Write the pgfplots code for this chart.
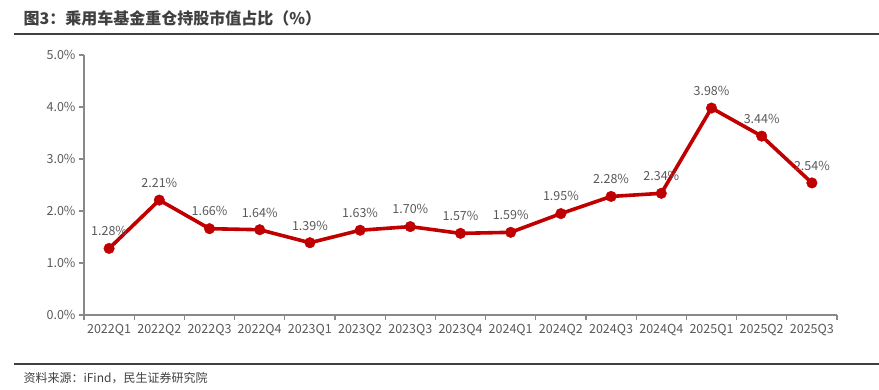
\documentclass[border=0pt]{standalone}
\usepackage{fontspec}
\setmainfont{Noto Sans CJK SC}
\usepackage{pgfplots}
\pgfplotsset{compat=1.18}
\definecolor{linered}{HTML}{C00000}
\definecolor{txtgray}{HTML}{595959}
\definecolor{axgray}{HTML}{898989}
\definecolor{ttl}{HTML}{404040}
\begin{document}
\begin{tikzpicture}[x=1pt,y=1pt]
\useasboundingbox (0,0) rectangle (879,389);
\node[anchor=west, text=ttl, font=\fontsize{16}{18}\selectfont\bfseries] at (20,371) {图3：乘用车基金重仓持股市值占比（\%）};
\draw[ttl, line width=1.4pt] (14,355) -- (879,355);
\draw[ttl, line width=1.4pt] (14,25) -- (879,25);
\node[anchor=west, text=ttl, font=\fontsize{12}{14}\selectfont] at (20,11) {资料来源：iFind，民生证券研究院};
\begin{axis}[
  at={(84pt,74pt)}, anchor=south west,
  scale only axis, width=753pt, height=260pt,
  xmin=-0.5, xmax=14.5, ymin=0, ymax=5,
  axis x line=bottom, axis y line=left,
  axis line style={axgray, line width=1.3pt, -},
  xtick={0,...,14},
  xticklabels={2022Q1,2022Q2,2022Q3,2022Q4,2023Q1,2023Q2,2023Q3,2023Q4,2024Q1,2024Q2,2024Q3,2024Q4,2025Q1,2025Q2,2025Q3},
  major x tick style={draw=none},
  minor xtick={-0.5,0.5,...,14.5},
  minor x tick style={axgray, line width=1.1pt},
  minor tick length=5pt,
  ytick={0,1,2,3,4,5},
  y tick style={axgray, line width=1.1pt},
  major tick length=5pt,
  tick align=outside,
  /pgf/number format/assume math mode=true,
  yticklabel={\pgfmathprintnumber[fixed,fixed zerofill,precision=1]{\tick}\%},
  ticklabel style={text=txtgray, font=\fontsize{12.5}{14}\selectfont},
  xticklabel style={yshift=-1pt},
  clip=false,
  nodes near coords={\pgfmathprintnumber[fixed,fixed zerofill,precision=2]{\pgfplotspointmeta}\%},
  every node near coord/.append style={text=txtgray, font=\fontsize{12.5}{14}\selectfont, anchor=south, yshift=9pt},
]
\addplot[linered, line width=3.6pt, mark=*, mark size=5.3pt, mark options={solid, fill=linered, draw=linered, line width=0.4pt}] coordinates {
(0,1.28) (1,2.21) (2,1.66) (3,1.64) (4,1.39) (5,1.63) (6,1.70) (7,1.57) (8,1.59) (9,1.95) (10,2.28) (11,2.34) (12,3.98) (13,3.44) (14,2.54)
};
\end{axis}
\end{tikzpicture}
\end{document}
